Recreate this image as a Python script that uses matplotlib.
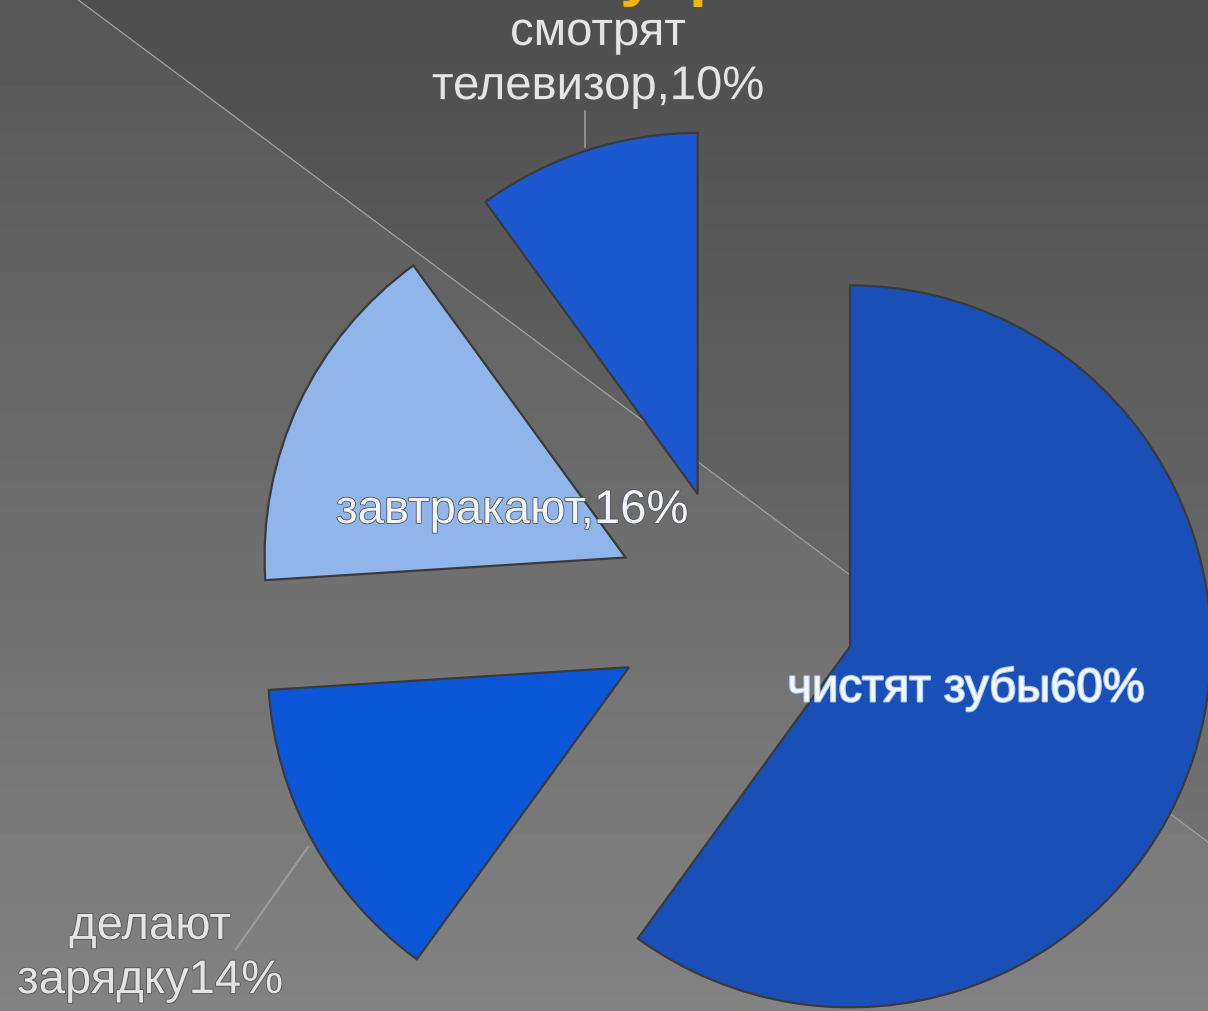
import matplotlib
matplotlib.use("Agg")
import matplotlib.pyplot as plt
import matplotlib.patheffects as pe
import numpy as np
from matplotlib.patches import Polygon

plt.rcParams['font.family'] = ['Liberation Sans', 'DejaVu Sans']

# morning routine shares, clockwise from 12 o'clock
names = ['чистят зубы', 'делают\nзарядку', 'завтракают,', 'смотрят\nтелевизор,']
values = [60, 14, 16, 10]
colors = ['#1a4fb8', '#0a56d6', '#90b5ea', '#1b57cf']
title = 'Наше утро'

W, H = 1208, 1012
fig = plt.figure(figsize=(W / 100, H / 100), dpi=100)
ax = fig.add_axes([0, 0, 1, 1])

# background: vertical gray gradient, darker band above the diagonal
yy = np.linspace(0, 1, 256)[:, None]
base = 0x57 + (0x82 - 0x57) * yy
grad = np.repeat(base, 2, axis=1) / 255.0
ax.imshow(grad, cmap='gray', vmin=0, vmax=1, extent=[0, W, 0, H],
          aspect='auto', zorder=0, interpolation='bicubic')
dark = ax.imshow(grad - 0x09 / 255.0, cmap='gray', vmin=0, vmax=1,
                 extent=[0, W, 0, H], aspect='auto', zorder=0.5,
                 interpolation='bicubic')
x0, x1, y1 = 77, W, 843
tri = Polygon([(x0, H), (W, H), (x1, H - y1)], closed=True,
              transform=ax.transData, facecolor='none', edgecolor='none')
ax.add_patch(tri)
dark.set_clip_path(tri)
ax.plot([x0, x1], [H, H - y1], color='#a0a0a0', lw=0.9, zorder=1)

# exploded pie (explode is in data units, here pixels)
cx, cy, r = 735, H - 610, 361
wedges, _ = ax.pie(values, colors=colors, startangle=90, counterclock=False,
                   explode=[0.335 * r] * len(values), center=(cx, cy), radius=r,
                   wedgeprops=dict(edgecolor='#3a3a3a', linewidth=1.6))
for w in wedges:
    w.set_zorder(2)

labels = [f'{n}{v}%' for n, v in zip(names, values)]
shadow = [pe.withStroke(linewidth=1.2, foreground='#555555')]
glow = [pe.withStroke(linewidth=1.6, foreground='#a8c8f4')]

ax.text(966, H - 690, labels[0], ha='center', va='center', fontsize=34,
        color='#f4f8ff', path_effects=glow, zorder=4)
ax.text(150, H - 955, labels[1], ha='center', va='center', fontsize=34,
        color='#e4e4e4', linespacing=1.3, path_effects=shadow, zorder=4)
ax.text(512, H - 512, labels[2], ha='center', va='center', fontsize=34,
        color='#f2f6fc', path_effects=shadow, zorder=4)
ax.text(598, H - 61, labels[3], ha='center', va='center', fontsize=34,
        color='#e4e4e4', linespacing=1.3, path_effects=shadow, zorder=4)

# leader lines
ax.plot([585, 585], [H - 112, H - 148], color='#9a9a9a', lw=1.2, zorder=3)
ax.plot([308, 236], [H - 848, H - 950], color='#9a9a9a', lw=1.6, zorder=3)

# slide title, mostly above the visible area
ax.text(428, H + 6, title, ha='left', va='baseline', fontsize=47,
        fontweight='bold', color='#f2b705', zorder=5)

ax.set_xlim(0, W)
ax.set_ylim(0, H)
ax.set_aspect('auto')
ax.axis('off')
fig.savefig('out.png', dpi=100)
